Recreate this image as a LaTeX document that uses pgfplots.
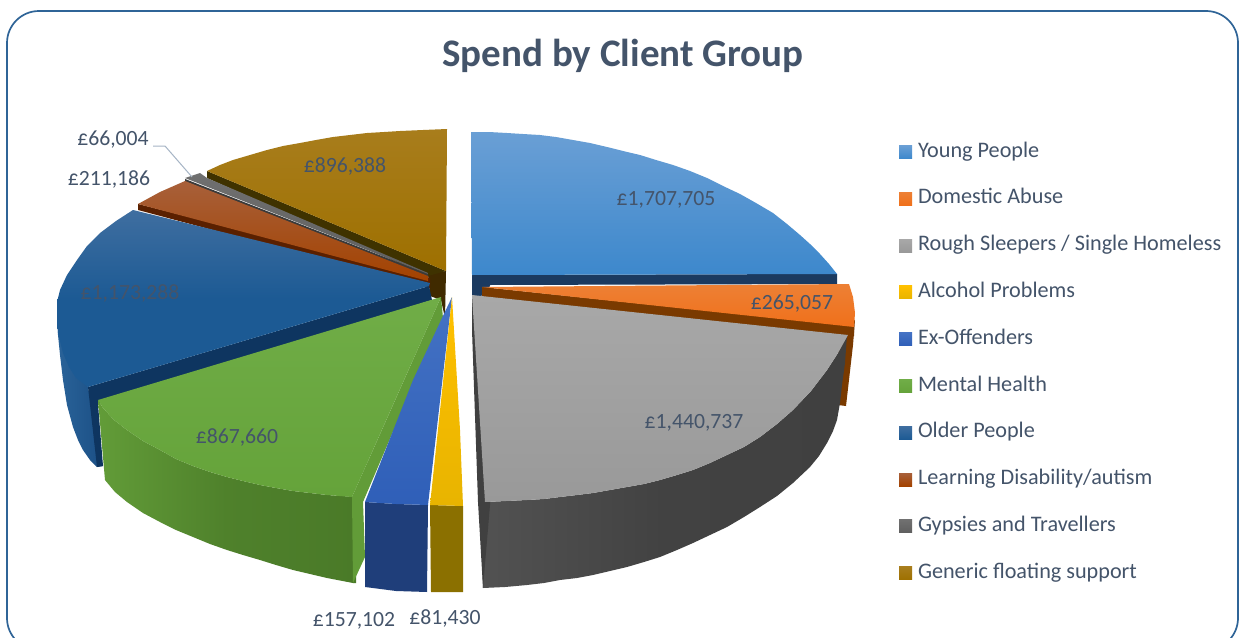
\documentclass[border=0pt]{standalone}
\usepackage{fontspec}
\setmainfont{Carlito}
\usepackage{pgfplots}
\pgfplotsset{compat=1.18}
\definecolor{txt}{HTML}{44546A}
\definecolor{frameblue}{HTML}{2F6497}
\definecolor{leader}{HTML}{A6B5C5}
\definecolor{core}{HTML}{402A00}
\definecolor{genT}{HTML}{A87D1C}\definecolor{genB}{HTML}{9E7000}\definecolor{genS}{HTML}{3F3200}
\definecolor{gypT}{HTML}{707070}\definecolor{gypB}{HTML}{5F5F5F}\definecolor{gypS}{HTML}{3A3A3A}
\definecolor{ldT}{HTML}{A8603A}\definecolor{ldB}{HTML}{A34200}\definecolor{ldS}{HTML}{5A2000}
\definecolor{oldT}{HTML}{3F6EA0}\definecolor{oldB}{HTML}{1C5A94}\definecolor{oldS}{HTML}{0E3560}
\definecolor{oldL}{HTML}{2A6399}\definecolor{oldR}{HTML}{1B4F85}
\definecolor{menT}{HTML}{70AD47}\definecolor{menB}{HTML}{65A33A}\definecolor{menE}{HTML}{629C38}\definecolor{menM}{HTML}{4A7A28}
\definecolor{exT}{HTML}{4472C4}\definecolor{exB}{HTML}{2F5FB8}\definecolor{exS}{HTML}{1F3E7A}
\definecolor{alcT}{HTML}{FFC000}\definecolor{alcB}{HTML}{E8B400}\definecolor{alcS}{HTML}{8B7000}
\definecolor{yngT}{HTML}{6A9FD5}\definecolor{yngB}{HTML}{3D88CC}\definecolor{yngS}{HTML}{1B3A60}
\definecolor{domT}{HTML}{ED8035}\definecolor{domB}{HTML}{F0701A}\definecolor{domS}{HTML}{7A3A00}
\definecolor{rouT}{HTML}{A8A8A8}\definecolor{rouB}{HTML}{999999}
\definecolor{rouL}{HTML}{525252}\definecolor{rouM}{HTML}{424242}\definecolor{rouR}{HTML}{404040}
\newcommand{\lbl}[3]{\node[text=#3,font=\fontsize{21.7}{24}\selectfont] at (axis cs:#1) {#2};}
\begin{document}
\begin{tikzpicture}
\begin{axis}[
  width=1239pt, height=637pt, scale only axis,
  xmin=0, xmax=1239, ymin=0, ymax=637,
  y dir=reverse, hide axis,
  legend style={at={(axis cs:899,142)}, anchor=north west, draw=none, fill=none,
    inner sep=0pt, outer sep=0pt, row sep=26.8pt, column sep=6pt, text=txt,
    font=\fontsize{22.2}{24}\selectfont,
    nodes={inner sep=0pt, text height=15pt, text depth=5pt}},
  legend cell align=left,
  legend image code/.code={\path[#1] (0pt,-6.5pt) rectangle (13pt,6.5pt);},
  every axis plot/.append style={forget plot, draw=none},
]
% page background
\addplot[fill=white] coordinates {(0,0) (1239,0) (1239,637) (0,637)} --cycle;
% frame
\addplot[draw=frameblue, line width=1.7pt, rounded corners=32pt] coordinates {(7,11) (1238,11) (1238,650) (7,650)} --cycle;

% centre column
\addplot[fill=core] coordinates {(428,274) (446,271) (445,318) (441,300) (430,296)} --cycle;

% Generic floating support
\addplot[fill=genS] coordinates {(207,171) (446,271) (428,276) (207,178)} --cycle;
\addplot[top color=genT, bottom color=genB] coordinates {(207,171) (220,165) (233,160) (250,155) (267,150) (283,146) (300,143) (316,140) (333,137) (350,135) (367,133) (384,132) (400,131) (423,130) (447,129) (446,271)} --cycle;

% Gypsies and Travellers
\addplot[fill=gypS] coordinates {(185,179) (428,274) (428,278) (185,183)} --cycle;
\addplot[top color=gypT, bottom color=gypB] coordinates {(185,178) (200,173) (207,178) (428,273) (428,274)} --cycle;

% Learning disability
\addplot[fill=ldS] coordinates {(138,204) (430,278) (430,288) (138,210)} --cycle;
\addplot[top color=ldT, bottom color=ldB] coordinates {(138,204) (160,192) (185,181) (428,276) (428,281)} --cycle;

% Older people
\addplot[left color=oldL, right color=oldR] coordinates {(57,313) (58,335) (60,355) (63,380) (67,405) (73,427) (78,440) (83,450) (90,460) (97,467) (103,466) (88,387)} --cycle;
\addplot[fill=oldS] coordinates {(88,387) (429,286) (432,300) (98,404) (103,466) (97,467)} --cycle;
\addplot[top color=oldT, bottom color=oldB, middle color=oldB] coordinates {(133,210) (116,221) (100,233) (87,246) (77,260) (67,275) (60,290) (57,302) (57,313) (58,333) (63,353) (69,367) (76,378) (88,387) (429,286) (430,283)} --cycle;

% Mental health
\addplot[left color=menE, right color=menM, middle color=menM!80!menE] coordinates {(98,400) (103,408) (114,420) (127,430) (143,441) (160,450) (176,459) (193,466) (210,472) (227,477) (243,481) (260,485) (276,488) (293,491) (310,493) (327,495) (356,497) (356,583) (353,583) (327,578) (310,574) (293,570) (276,565) (260,560) (243,555) (227,550) (210,544) (193,537) (176,530) (160,522) (143,513) (127,502) (115,492) (105,480)} --cycle;
\addplot[fill=menE] coordinates {(441,297) (443,318) (415,380) (363,502) (365,557) (353,583) (352,497)} --cycle;
\addplot[top color=menT, bottom color=menB] coordinates {(98,400) (441,297) (352,497) (327,495) (310,493) (293,491) (276,488) (260,485) (243,481) (227,477) (210,472) (193,466) (176,459) (160,450) (143,441) (127,430) (114,420) (103,408)} --cycle;

% Ex-offenders
\addplot[fill=exS] coordinates {(365,502) (396,504) (428,505) (427,592) (396,591) (365,587)} --cycle;
\addplot[top color=exT, bottom color=exB] coordinates {(452,297) (428,505) (396,504) (365,502) (413,380) (442,318)} --cycle;

% Alcohol problems
\addplot[fill=alcS] coordinates {(430,505) (463,506) (463,592) (431,592)} --cycle;
\addplot[top color=alcT, bottom color=alcB] coordinates {(452,297) (460,430) (463,506) (430,505)} --cycle;

% Young people
\addplot[fill=yngS] coordinates {(472,275) (837,274) (837,284) (490,285) (488,294) (472,298)} --cycle;
\addplot[top color=yngT, bottom color=yngB] coordinates {(471,132) (489,132) (507,133) (523,134) (540,135) (556,137) (573,140) (590,143) (607,147) (623,151) (640,155) (656,160) (673,165) (690,171) (707,178) (723,186) (740,194) (756,203) (773,213) (787,224) (800,235) (810,244) (820,254) (829,264) (837,274) (472,275)} --cycle;

% Domestic abuse
\addplot[fill=domS] coordinates {(855,320) (853,345) (846,406) (838,405) (838,330)} --cycle;
\addplot[fill=domS] coordinates {(482,287) (854,326) (854,336) (848,340) (482,300)} --cycle;
\addplot[top color=domT, bottom color=domB] coordinates {(482,287) (849,284) (853,297) (855,313) (854,327)} --cycle;

% Rough sleepers
\addplot[left color=rouL, right color=rouR, middle color=rouM] coordinates {(480,502) (485,502) (506,501) (527,500) (544,499) (560,497) (577,495) (593,493) (610,490) (627,487) (644,484) (660,480) (677,475) (693,470) (710,463) (727,455) (744,447) (760,437) (777,424) (793,410) (811,391) (827,370) (838,353) (847,335) (845,363) (842,385) (840,403) (837,420) (833,431) (827,443) (819,456) (810,467) (793,483) (777,496) (760,507) (744,517) (727,527) (710,535) (693,543) (677,550) (660,557) (644,562) (627,567) (610,571) (593,575) (577,578) (560,580) (544,583) (527,585) (505,587) (483,588)} --cycle;
\addplot[fill=rouR] coordinates {(472,295) (490,320) (490,505) (483,588) (478,502) (472,330)} --cycle;
\addplot[top color=rouT, bottom color=rouB] coordinates {(472,295) (848,335) (838,353) (827,370) (811,391) (793,410) (777,424) (760,437) (744,447) (727,455) (710,463) (693,470) (677,475) (660,480) (644,484) (627,487) (610,490) (593,493) (577,495) (560,497) (544,499) (527,500) (506,501) (485,502)} --cycle;

% leader line
\addplot[draw=leader, line width=1pt] coordinates {(153,146) (165,146) (192,177)};

% legend
\addlegendimage{top color=yngT, bottom color=yngB}
\addlegendentry{Young People}
\addlegendimage{top color=domT, bottom color=domB}
\addlegendentry{Domestic Abuse}
\addlegendimage{top color=rouT, bottom color=rouB}
\addlegendentry{Rough Sleepers / Single Homeless}
\addlegendimage{top color=alcT, bottom color=alcB}
\addlegendentry{Alcohol Problems}
\addlegendimage{top color=exT, bottom color=exB}
\addlegendentry{Ex-Offenders}
\addlegendimage{top color=menT, bottom color=menB}
\addlegendentry{Mental Health}
\addlegendimage{top color=oldT, bottom color=oldB}
\addlegendentry{Older People}
\addlegendimage{top color=ldT, bottom color=ldB}
\addlegendentry{Learning Disability/autism}
\addlegendimage{top color=gypT, bottom color=gypB}
\addlegendentry{Gypsies and Travellers}
\addlegendimage{top color=genT, bottom color=genB}
\addlegendentry{Generic floating support}

% title and labels
\node[text=txt,font=\fontsize{39}{42}\selectfont\bfseries] at (axis cs:623,56) {Spend by Client Group};
\lbl{666,200}{£1,707,705}{txt}
\lbl{792,304}{£265,057}{txt}
\lbl{694,423}{£1,440,737}{txt}
\lbl{237,437}{£867,660}{txt}
\lbl{130,293}{£1,173,288}{txt}
\lbl{345,166}{£896,388}{txt}
\lbl{109,179}{£211,186}{txt}
\lbl{113,140}{£66,004}{txt}
\lbl{354,621}{£157,102}{txt}
\lbl{445,618}{£81,430}{txt}
\end{axis}
\end{tikzpicture}
\end{document}
